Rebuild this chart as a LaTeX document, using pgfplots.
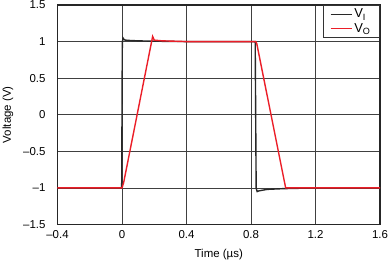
\documentclass[border=0pt]{standalone}
\usepackage{fontspec}
\setmainfont{Liberation Sans}
\usepackage{pgfplots}
\pgfplotsset{compat=1.18}
\definecolor{vi}{RGB}{40,40,40}
\definecolor{vo}{RGB}{235,30,40}
\begin{document}
\fontsize{11.5}{13}\selectfont
\begin{tikzpicture}
\useasboundingbox (-57.5bp,-41bp) rectangle (330.5bp,224.5bp);
\begin{axis}[
  scale only axis,
  width=322.5bp, height=219.5bp,
  xmin=-0.4, xmax=1.6, ymin=-1.5, ymax=1.5,
  xtick={-0.4,0,0.4,0.8,1.2,1.6},
  xticklabels={{--0.4},0,0.4,0.8,1.2,1.6},
  ytick={-1.5,-1,-0.5,0,0.5,1,1.5},
  yticklabels={{--1.5},{--1},{--0.5},0,0.5,1,1.5},
  major tick length=0pt,
  xticklabel style={yshift=-2bp},
  yticklabel style={xshift=-8bp},
  grid=major,
  major grid style={black!75, line width=0.7bp},
  axis line style={black!85, line width=1.2bp},
  xlabel={Time (\textmu s)},
  ylabel={Voltage (V)},
  xlabel style={yshift=-3bp},
  ylabel style={yshift=2bp},
  legend style={at={(1,1)}, anchor=north east, draw=black!80, line width=1bp,
    fill=white, inner xsep=7bp, inner ysep=1.5bp, row sep=0bp,
    font=\fontsize{13}{15}\selectfont,
    /tikz/every even column/.append style={column sep=3bp}},
  legend cell align=left,
  legend image post style={xscale=1.25, line width=1bp},
]
\addplot[vi, line width=1.4bp] coordinates {
(-0.4,-1) (-0.1,-1) (-0.002,-1) (0.002,0.98) (0.006,1.05) (0.012,1.03)
(0.02,1.02) (0.05,1.015) (0.1,1.01) (0.2,1.005) (0.4,1.0) (0.6,1.0) (0.826,1.0)
(0.832,-1.0) (0.838,-1.05) (0.85,-1.04) (0.9,-1.02) (1.0,-1.01) (1.2,-1.0) (1.6,-1)
};
\addlegendentry{V\textsubscript{I}}
\addplot[vo, line width=1.4bp] coordinates {
(-0.4,-1) (-0.1,-1) (0.0,-1) (0.01,-0.93) (0.19,1.07) (0.2,1.02) (0.25,1.01)
(0.4,1.0) (0.6,1.0) (0.83,1.0) (0.836,0.97) (1.015,-1.0) (1.05,-1.0) (1.3,-1.0) (1.6,-1)
};
\addlegendentry{V\textsubscript{O}}
\end{axis}
\end{tikzpicture}
\end{document}
